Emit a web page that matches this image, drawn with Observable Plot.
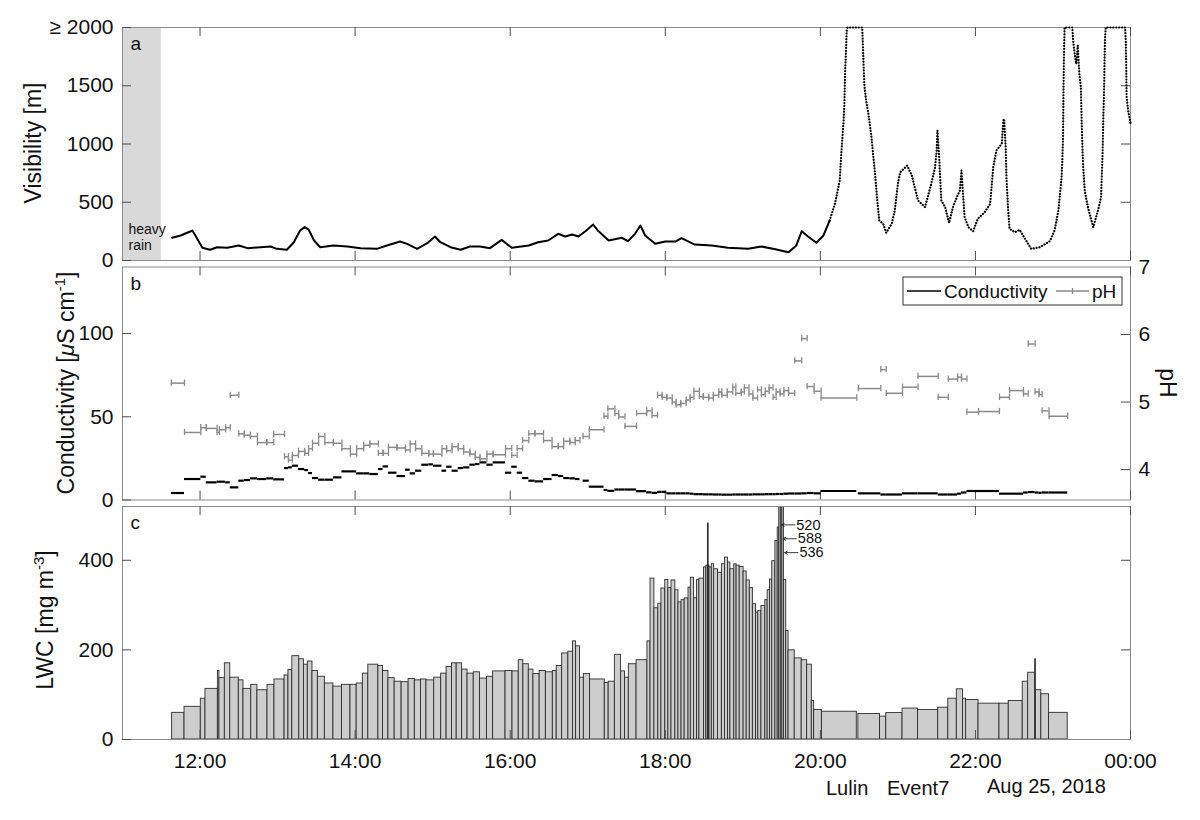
<!DOCTYPE html>
<html>
<head>
<meta charset="utf-8">
<script src="https://cdn.jsdelivr.net/npm/d3@7"></script>
<script src="https://cdn.jsdelivr.net/npm/@observablehq/plot@0.6"></script>
<style>
  body { margin: 0; background: #fff; }
  #fig { position: relative; width: 1200px; height: 820px; overflow: hidden; }
</style>
</head>
<body>
<div id="fig"></div>
<script>
// ---------------- data (time in decimal hours, Aug 24 2018) ----------------
const rainStart = 11.0, rainEnd = 11.5;

const visHour = [
  11.64, 11.75, 11.88, 11.90, 11.94, 12.03, 12.13, 12.22, 12.35, 12.50,
  12.61, 12.78, 12.91, 12.99, 13.12, 13.21, 13.29, 13.35, 13.40, 13.47,
  13.55, 13.72, 13.90, 14.07, 14.28, 14.41, 14.58, 14.67, 14.80, 14.93,
  15.03, 15.10, 15.23, 15.36, 15.48, 15.61, 15.74, 15.89, 16.02, 16.24,
  16.36, 16.49, 16.62, 16.71, 16.80, 16.88, 16.97, 17.07, 17.14, 17.27,
  17.44, 17.52, 17.61, 17.68, 17.74, 17.87, 18.00, 18.13, 18.21, 18.38,
  18.60, 18.81, 19.07, 19.24, 19.42, 19.59, 19.69, 19.76, 19.84, 19.95,
  20.04, 20.12, 20.19, 20.25, 20.27, 20.30, 20.31, 20.32, 20.33, 20.34,
  20.35, 20.40, 20.45, 20.50, 20.54, 20.55, 20.56, 20.57, 20.59, 20.62,
  20.66, 20.68, 20.71, 20.73, 20.76, 20.81, 20.85, 20.92, 20.96, 21.00,
  21.03, 21.12, 21.18, 21.26, 21.35, 21.43, 21.48, 21.50, 21.51, 21.53,
  21.56, 21.61, 21.66, 21.71, 21.76, 21.80, 21.82, 21.84, 21.86, 21.91,
  21.97, 22.03, 22.12, 22.19, 22.23, 22.27, 22.34, 22.36, 22.37, 22.39,
  22.40, 22.42, 22.44, 22.51, 22.57, 22.64, 22.72, 22.83, 22.96, 23.02,
  23.07, 23.11, 23.12, 23.130, 23.135, 23.140, 23.15, 23.20, 23.25, 23.26,
  23.28, 23.30, 23.32, 23.34, 23.36, 23.37, 23.38, 23.39, 23.41, 23.45,
  23.52, 23.58, 23.62, 23.64, 23.65, 23.66, 23.67, 23.68, 23.75, 23.85,
  23.93, 23.94, 23.945, 23.95, 23.97, 24.00
];
const visValue = [
  195, 215, 251, 257, 215, 109, 92, 114, 109, 129,
  106, 114, 120, 100, 92, 157, 257, 286, 266, 172,
  114, 129, 120, 106, 100, 129, 163, 143, 100, 149,
  206, 157, 114, 92, 120, 120, 106, 177, 109, 129,
  157, 172, 229, 206, 223, 206, 251, 309, 251, 172,
  195, 166, 229, 300, 215, 143, 163, 163, 192, 137,
  129, 109, 100, 120, 97, 71, 129, 251, 206, 152,
  215, 343, 492, 686, 915, 1201, 1344, 1636, 1787, 1973,
  2000, 2000, 2000, 2000, 2000, 1830, 1630, 1487, 1373, 1259,
  1058, 915, 715, 543, 343, 315, 238, 315, 429, 658,
  758, 815, 729, 515, 458, 658, 801, 944, 1115, 915,
  515, 458, 323, 458, 543, 601, 772, 572, 372, 286,
  251, 358, 415, 486, 801, 944, 1001, 1201, 1216, 973,
  715, 458, 272, 243, 263, 186, 100, 114, 166, 257,
  429, 701, 844, 1058, 1416, 1693, 2000, 2000, 2000, 1888,
  1773, 1687, 1845, 1602, 1487, 1201, 973, 801, 601, 458,
  286, 429, 543, 915, 1244, 1487, 1888, 2000, 2000, 2000,
  2000, 1873, 1645, 1401, 1287, 1178
];

// cloud-water samples: interval, pH, conductivity [µS/cm]
const sampleStart = [
  11.63, 11.80, 12.01, 12.08, 12.22, 12.25, 12.33, 12.39, 12.50, 12.57,
  12.65, 12.74, 12.86, 12.95, 13.09, 13.14, 13.19, 13.27, 13.35, 13.40,
  13.45, 13.53, 13.61, 13.72, 13.83, 13.94, 14.02, 14.11, 14.19, 14.30,
  14.36, 14.43, 14.54, 14.65, 14.71, 14.78, 14.86, 14.95, 15.01, 15.12,
  15.18, 15.25, 15.33, 15.40, 15.48, 15.55, 15.61, 15.70, 15.78, 15.94,
  16.02, 16.09, 16.16, 16.24, 16.32, 16.43, 16.54, 16.62, 16.69, 16.77,
  16.84, 16.94, 17.02, 17.21, 17.26, 17.35, 17.40, 17.48, 17.63, 17.76,
  17.83, 17.90, 17.96, 18.02, 18.09, 18.14, 18.20, 18.27, 18.32, 18.37,
  18.44, 18.49, 18.56, 18.62, 18.69, 18.73, 18.80, 18.87, 18.91, 18.98,
  19.02, 19.08, 19.13, 19.19, 19.24, 19.29, 19.34, 19.39, 19.43, 19.48,
  19.53, 19.59, 19.67, 19.76, 19.83, 19.92, 20.01, 20.49, 20.78, 20.85,
  21.06, 21.26, 21.52, 21.65, 21.77, 21.82, 21.89, 22.04, 22.31, 22.44,
  22.62, 22.68, 22.77, 22.82, 22.86, 22.95
];
const sampleEnd = [
  11.80, 12.01, 12.08, 12.22, 12.25, 12.33, 12.39, 12.50, 12.57, 12.65,
  12.74, 12.86, 12.95, 13.09, 13.14, 13.19, 13.27, 13.35, 13.40, 13.45,
  13.53, 13.61, 13.72, 13.83, 13.94, 14.02, 14.11, 14.19, 14.30, 14.36,
  14.43, 14.54, 14.65, 14.71, 14.78, 14.86, 14.95, 15.01, 15.12, 15.18,
  15.25, 15.33, 15.40, 15.48, 15.55, 15.61, 15.70, 15.78, 15.94, 16.02,
  16.09, 16.16, 16.24, 16.32, 16.43, 16.54, 16.62, 16.69, 16.77, 16.84,
  16.90, 17.02, 17.21, 17.26, 17.35, 17.40, 17.48, 17.63, 17.76, 17.83,
  17.90, 17.96, 18.02, 18.09, 18.14, 18.20, 18.27, 18.32, 18.37, 18.44,
  18.49, 18.56, 18.62, 18.69, 18.73, 18.80, 18.87, 18.91, 18.98, 19.02,
  19.08, 19.13, 19.19, 19.24, 19.29, 19.34, 19.39, 19.43, 19.48, 19.53,
  19.59, 19.67, 19.76, 19.83, 19.92, 20.01, 20.47, 20.78, 20.85, 21.06,
  21.26, 21.52, 21.65, 21.77, 21.82, 21.89, 22.04, 22.31, 22.44, 22.62,
  22.68, 22.77, 22.82, 22.86, 22.95, 23.19
];
const samplePH = [
  5.28, 4.55, 4.62, 4.61, 4.55, 4.59, 4.62, 5.10, 4.53, 4.51,
  4.49, 4.40, 4.40, 4.52, 4.19, 4.14, 4.21, 4.27, 4.24, 4.31,
  4.39, 4.49, 4.40, 4.39, 4.31, 4.23, 4.31, 4.36, 4.38, 4.24,
  4.24, 4.33, 4.32, 4.29, 4.38, 4.31, 4.24, 4.23, 4.23, 4.31,
  4.28, 4.34, 4.31, 4.26, 4.23, 4.18, 4.16, 4.23, 4.22, 4.31,
  4.21, 4.31, 4.43, 4.53, 4.53, 4.43, 4.34, 4.34, 4.42, 4.40,
  4.43, 4.49, 4.59, 4.79, 4.90, 4.83, 4.78, 4.64, 4.83, 4.87,
  4.80, 5.10, 5.07, 5.06, 5.00, 4.96, 4.98, 5.03, 5.07, 5.16,
  5.08, 5.07, 5.06, 5.10, 5.15, 5.10, 5.15, 5.22, 5.13, 5.15,
  5.21, 5.12, 5.06, 5.18, 5.11, 5.16, 5.21, 5.07, 5.15, 5.12,
  5.17, 5.13, 5.61, 5.94, 5.23, 5.16, 5.06, 5.20, 5.48, 5.13,
  5.22, 5.38, 5.07, 5.34, 5.37, 5.34, 4.85, 4.86, 5.07, 5.17,
  5.12, 5.86, 5.15, 5.11, 4.87, 4.79
];
const sampleCond = [
  4.2, 12.6, 14.0, 10.6, 11.0, 11.0, 10.6, 7.6, 11.6, 12.0,
  13.0, 12.6, 13.0, 12.4, 19.2, 19.6, 20.6, 18.6, 18.0, 16.2,
  13.2, 12.2, 12.2, 13.6, 17.2, 17.2, 16.0, 16.0, 15.6, 18.6,
  20.2, 16.4, 14.4, 18.2, 16.0, 17.6, 21.2, 21.4, 20.6, 17.6,
  20.0, 17.6, 19.2, 19.6, 21.2, 21.6, 22.6, 21.2, 22.6, 16.4,
  20.0, 16.4, 13.2, 11.6, 11.2, 12.6, 15.0, 14.4, 13.2, 13.0,
  12.6, 11.6, 8.0, 6.0, 5.5, 6.3, 6.3, 6.3, 5.3, 4.6,
  4.3, 4.9, 4.9, 4.0, 4.0, 4.0, 4.0, 4.0, 3.8, 3.5,
  3.5, 3.4, 3.4, 3.3, 3.3, 3.2, 3.2, 3.3, 3.3, 3.3,
  3.3, 3.3, 3.4, 3.4, 3.4, 3.5, 3.5, 3.5, 3.6, 3.6,
  3.8, 3.9, 3.9, 4.0, 4.2, 4.0, 5.4, 4.0, 3.3, 3.3,
  4.0, 4.0, 3.3, 3.3, 3.8, 4.5, 5.4, 5.4, 3.8, 3.8,
  4.5, 4.8, 4.5, 4.3, 4.5, 4.5
];

// liquid water content bins [mg m^-3]
const lwcStart = [
  11.64, 11.80, 12.01, 12.07, 12.23, 12.25, 12.32, 12.39, 12.50, 12.56,
  12.66, 12.74, 12.87, 12.96, 13.09, 13.14, 13.19, 13.28, 13.34, 13.39,
  13.45, 13.52, 13.61, 13.72, 13.83, 13.94, 14.02, 14.10, 14.17, 14.30,
  14.36, 14.43, 14.51, 14.60, 14.69, 14.77, 14.85, 14.92, 15.02, 15.11,
  15.18, 15.25, 15.31, 15.38, 15.45, 15.53, 15.61, 15.70, 15.78, 15.94,
  16.03, 16.11, 16.17, 16.24, 16.30, 16.38, 16.46, 16.55, 16.60, 16.67,
  16.75, 16.81, 16.85, 16.90, 16.95, 17.03, 17.22, 17.27, 17.35, 17.43,
  17.48, 17.53, 17.63, 17.77, 17.81, 17.86, 17.91, 17.95, 18.00, 18.04,
  18.08, 18.13, 18.17, 18.21, 18.25, 18.30, 18.33, 18.37, 18.41, 18.44,
  18.50, 18.53, 18.55, 18.56, 18.57, 18.60, 18.63, 18.68, 18.73, 18.77,
  18.81, 18.84, 18.89, 18.92, 18.96, 19.01, 19.05, 19.09, 19.13, 19.17,
  19.20, 19.24, 19.29, 19.32, 19.35, 19.38, 19.42, 19.45, 19.47, 19.49,
  19.51, 19.53, 19.56, 19.59, 19.67, 19.76, 19.83, 19.89, 19.92, 20.02,
  20.49, 20.77, 20.85, 21.06, 21.26, 21.52, 21.65, 21.76, 21.84, 21.88,
  22.04, 22.31, 22.43, 22.61, 22.68, 22.77, 22.78, 22.85, 22.95
];
const lwcEnd = [
  11.80, 12.01, 12.07, 12.23, 12.25, 12.32, 12.39, 12.50, 12.56, 12.66,
  12.74, 12.87, 12.96, 13.09, 13.14, 13.19, 13.28, 13.34, 13.39, 13.45,
  13.52, 13.61, 13.72, 13.83, 13.94, 14.02, 14.10, 14.17, 14.30, 14.36,
  14.43, 14.51, 14.60, 14.69, 14.77, 14.85, 14.92, 15.02, 15.11, 15.18,
  15.25, 15.31, 15.38, 15.45, 15.53, 15.61, 15.70, 15.78, 15.94, 16.03,
  16.11, 16.17, 16.24, 16.30, 16.38, 16.46, 16.55, 16.60, 16.67, 16.75,
  16.81, 16.85, 16.90, 16.95, 17.03, 17.22, 17.27, 17.35, 17.43, 17.48,
  17.53, 17.63, 17.77, 17.81, 17.86, 17.91, 17.95, 18.00, 18.04, 18.08,
  18.13, 18.17, 18.21, 18.25, 18.30, 18.33, 18.37, 18.41, 18.44, 18.50,
  18.53, 18.55, 18.56, 18.57, 18.60, 18.63, 18.68, 18.73, 18.77, 18.81,
  18.84, 18.89, 18.92, 18.96, 19.01, 19.05, 19.09, 19.13, 19.17, 19.20,
  19.24, 19.29, 19.32, 19.35, 19.38, 19.42, 19.45, 19.47, 19.49, 19.51,
  19.53, 19.56, 19.59, 19.67, 19.76, 19.83, 19.89, 19.92, 20.02, 20.47,
  20.77, 20.85, 21.06, 21.26, 21.52, 21.65, 21.76, 21.84, 21.88, 22.04,
  22.31, 22.43, 22.61, 22.68, 22.77, 22.78, 22.85, 22.95, 23.19
];
const lwcValue = [
  59.5, 73, 91, 113, 153, 137, 170, 138, 132, 113,
  122, 110, 122, 134, 143, 155, 186, 179, 167, 174,
  153, 140, 125, 118, 122, 122, 125, 147, 167, 164,
  153, 137, 129, 128, 135, 132, 134, 132, 138, 147,
  162, 170, 170, 156, 147, 150, 136, 140, 152, 153,
  152, 177, 168, 156, 146, 153, 150, 153, 164, 192,
  196, 219, 208, 138, 146, 134, 126, 129, 189, 152,
  138, 168, 177, 219, 359, 293, 303, 337, 356, 338,
  355, 333, 306, 311, 315, 339, 361, 315, 356, 359,
  384, 388, 482, 388, 384, 391, 380, 372, 391, 406,
  395, 380, 391, 388, 385, 375, 355, 338, 302, 283,
  287, 298, 311, 333, 357, 398, 443, 473, 520, 588,
  536, 356, 242, 199, 181, 177, 167, 86, 66, 62,
  57, 51, 59, 69, 66, 71, 91, 112, 91, 88,
  80, 80, 86, 129, 149, 179, 110, 101, 59.5
];

// axes
const timeTicks = [12, 14, 16, 18, 20, 22, 24];
const visTicks = [0, 500, 1000, 1500, 2000];
const condTicks = [0, 50, 100];
const phTicks = [4, 5, 6, 7];
const lwcTicks = [0, 200, 400];
const visMax = 2000, condMax = 140, phMin = 3.55, phMax = 7, lwcMax = 520;

// ---------------- rows ----------------
const vis = visHour.map((h, i) => ({h, v: visValue[i]}));
const visSolid = vis.filter(d => d.h <= 20.12);
const visDotted = vis.filter(d => d.h >= 20.12);
const samples = sampleStart.map((s, i) => ({start: s, end: sampleEnd[i], ph: samplePH[i], cond: sampleCond[i]}));
const lwcBins = lwcStart.map((s, i) => ({start: s, end: lwcEnd[i], v: lwcValue[i]}));

const pToY = p => (p - phMin) / (phMax - phMin) * condMax;
const yToP = y => phMin + y / condMax * (phMax - phMin);
const fmtTime = h => String(h % 24).padStart(2, "0") + ":00";

// ---------------- layout ----------------
const FONT = "'Liberation Sans', Arial, Helvetica, sans-serif";
const PW = 1008, PH = 233, TL = 9;
const fig = document.getElementById("fig");
const style = {fontFamily: FONT, fontSize: "21px", color: "#111", background: "none", overflow: "visible"};
const tickStroke = "#4d4d4d";

function boxTicks(leftTicks, rightTicks) {
  return [
    Plot.frame({stroke: "#8c8c8c"}),
    Plot.tickX(timeTicks, {x: d => d, insetBottom: PH - TL, stroke: tickStroke}),
    Plot.tickX(timeTicks, {x: d => d, insetTop: PH - TL, stroke: tickStroke}),
    Plot.tickY(leftTicks, {y: d => d, insetRight: PW - TL, stroke: tickStroke}),
    Plot.tickY(rightTicks, {y: d => d, insetLeft: PW - TL, stroke: tickStroke})
  ];
}
function place(svg, top) {
  svg.style.position = "absolute";
  svg.style.left = "0px";
  svg.style.top = top + "px";
  fig.appendChild(svg);
}
const panelLabel = t => Plot.text([t], {frameAnchor: "top-left", dx: 8, dy: 9, lineAnchor: "top", fontSize: 19, fill: "#111"});

// Panel a: visibility
place(Plot.plot({
  width: 1200, height: 263, marginLeft: 122, marginRight: 70, marginTop: 27, marginBottom: 3,
  style,
  x: {domain: [11, 24], axis: null},
  y: {domain: [0, visMax]},
  marks: [
    Plot.rect([{a: rainStart, b: rainEnd}], {x1: "a", x2: "b", y1: () => 0, y2: () => visMax, fill: "#d9d9d9"}),
    ...boxTicks(visTicks, visTicks.slice(1, -1)),
    Plot.axisY({ticks: visTicks, tickSize: 0, tickPadding: 9, label: null,
      tickFormat: d => d === visMax ? "\u2265 2000" : String(d)}),
    Plot.line(visSolid, {x: "h", y: "v", stroke: "#000", strokeWidth: 2}),
    Plot.line(visDotted, {x: "h", y: "v", stroke: "#000", strokeWidth: 2.2,
      strokeDasharray: "0.1,2.8", strokeLinecap: "round"}),
    panelLabel("a"),
    Plot.text(["heavy\nrain"], {frameAnchor: "bottom-left", dx: 6, dy: -11, lineAnchor: "bottom",
      lineHeight: 1.1, fontSize: 14, textAnchor: "start", fill: "#111"})
  ]
}), 0);

// Panel b: conductivity & pH
place(Plot.plot({
  width: 1200, height: 239.5, marginLeft: 122, marginRight: 70, marginTop: 3.5, marginBottom: 3,
  style,
  x: {domain: [11, 24], axis: null},
  y: {domain: [0, condMax]},
  marks: [
    ...boxTicks(condTicks, phTicks.filter(p => p < phMax).map(pToY)),
    Plot.axisY({ticks: condTicks, tickSize: 0, tickPadding: 9, label: null}),
    Plot.axisY({anchor: "right", ticks: phTicks.map(pToY), tickSize: 0, tickPadding: 8, label: null,
      tickFormat: v => String(Math.round(yToP(v)))}),
    Plot.ruleY(samples, {x1: "start", x2: "end", y: d => pToY(d.ph), stroke: "#8a8a8a", strokeWidth: 1.5}),
    Plot.ruleX(samples, {x: "start", y1: d => pToY(d.ph) - 1.9, y2: d => pToY(d.ph) + 1.9, stroke: "#8a8a8a", strokeWidth: 1.3}),
    Plot.ruleX(samples, {x: "end", y1: d => pToY(d.ph) - 1.9, y2: d => pToY(d.ph) + 1.9, stroke: "#8a8a8a", strokeWidth: 1.3}),
    Plot.ruleY(samples, {x1: "start", x2: "end", y: "cond", stroke: "#000", strokeWidth: 2.2}),
    panelLabel("b")
  ]
}), 263);

// Panel c: LWC
const peakNotes = lwcBins.filter(d => d.v >= lwcMax).map((d, i) => ({
  tip: d.end + 0.01, tail: d.end + 0.18, textX: d.end + 0.2, y: 479 - i * 31, label: String(d.v)
}));
place(Plot.plot({
  width: 1200, height: 288, marginLeft: 122, marginRight: 70, marginTop: 3, marginBottom: 52,
  style,
  x: {domain: [11, 24]},
  y: {domain: [0, lwcMax]},
  marks: [
    Plot.rect(lwcBins, {x1: "start", x2: "end", y1: () => 0, y2: "v", fill: "#cdcdcd",
      stroke: "#2e2e2e", strokeWidth: 0.9, clip: true}),
    ...boxTicks(lwcTicks, lwcTicks.slice(1)),
    Plot.axisY({ticks: lwcTicks, tickSize: 0, tickPadding: 9, label: null}),
    Plot.axisX({ticks: timeTicks, tickSize: 0, tickPadding: 14, tickFormat: fmtTime, label: null}),
    Plot.arrow(peakNotes, {x1: "tail", x2: "tip", y1: "y", y2: "y", stroke: "#222", strokeWidth: 0.9, headLength: 5}),
    Plot.text(peakNotes, {x: "textX", y: "y", text: "label", textAnchor: "start", fontSize: 14.5, fill: "#111"}),
    panelLabel("c")
  ]
}), 502.5);

// ---------------- titles, legend, caption ----------------
const ns = "http://www.w3.org/2000/svg";
const overlay = document.createElementNS(ns, "svg");
overlay.setAttribute("width", 1200);
overlay.setAttribute("height", 820);
overlay.style.position = "absolute";
overlay.style.left = "0px";
overlay.style.top = "0px";
overlay.setAttribute("font-family", FONT);
overlay.innerHTML = `
  <g font-size="23" fill="#111" text-anchor="middle">
    <text transform="translate(33,143) rotate(-90)" dy="0.35em">Visibility [m]</text>
    <text transform="translate(66,383) rotate(-90)" dy="0.35em">Conductivity [<tspan font-style="italic">\u03bc</tspan>S cm<tspan dy="-9" font-size="15">-1</tspan><tspan dy="9">]</tspan></text>
    <text transform="translate(45,620) rotate(-90)" dy="0.35em">LWC [mg m<tspan dy="-9" font-size="15">-3</tspan><tspan dy="9">]</tspan></text>
    <text transform="translate(1168,383) rotate(90)" dy="0.35em">pH</text>
  </g>
  <g>
    <rect x="903" y="277" width="219" height="28" fill="#fff" stroke="#333" stroke-width="1"/>
    <line x1="907" x2="941" y1="291" y2="291" stroke="#000" stroke-width="1.5"/>
    <text x="944" y="298" font-size="19" fill="#111">Conductivity</text>
    <line x1="1056" x2="1089" y1="291" y2="291" stroke="#8a8a8a" stroke-width="1.5"/>
    <line x1="1072.5" x2="1072.5" y1="288" y2="294" stroke="#8a8a8a" stroke-width="1.3"/>
    <text x="1092" y="298" font-size="19" fill="#111">pH</text>
  </g>
  <g font-size="20" fill="#111">
    <text x="826" y="795">Lulin</text>
    <text x="887" y="795">Event7</text>
    <text x="987" y="793">Aug 25, 2018</text>
  </g>`;
fig.appendChild(overlay);
</script>
</body>
</html>
